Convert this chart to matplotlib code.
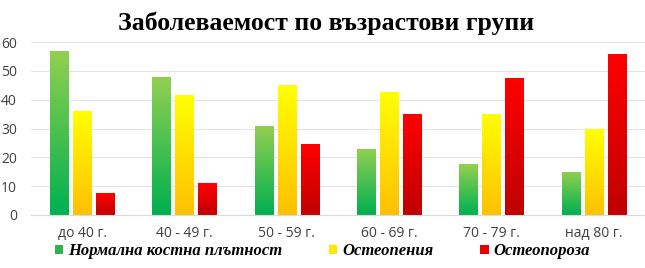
import matplotlib.pyplot as plt
import numpy as np
from matplotlib.patches import Patch

groups = ["до 40 г.", "40 - 49 г.", "50 - 59 г.", "60 - 69 г.", "70 - 79 г.", "над 80 г."]
normal = [57, 48, 31, 23, 17.7, 15]
osteopenia = [36, 41.5, 45, 42.5, 35, 29.7]
osteoporosis = [7.5, 11, 24.5, 35, 47.5, 55.8]
names = ["Нормална костна плътност", "Остеопения", "Остеопороза"]
# top / bottom colours of the gradients
grads = [("#92d050", "#00b050"), ("#ffff00", "#ffc000"), ("#ff0000", "#c00000")]
legend_colors = ["#2db24f", "#ffe800", "#e80000"]

fig = plt.figure(figsize=(6.45, 2.68), dpi=100)
ax = fig.add_axes([0.048, 0.198, 0.952, 0.645])

x = np.arange(len(groups))
w = 0.18
step = 0.225

def hex2rgb(h):
    return np.array([int(h[i:i + 2], 16) / 255 for i in (1, 3, 5)])

for i, (vals, (top, bot)) in enumerate(zip([normal, osteopenia, osteoporosis], grads)):
    bars = ax.bar(x + (i - 1) * step, vals, w, color="none", edgecolor="none", zorder=2)
    t, b = hex2rgb(top), hex2rgb(bot)
    for bar in bars:
        x0, y0 = bar.get_x(), bar.get_y()
        h = bar.get_height()
        f = np.linspace(0, 1, 100)[:, None]
        img = (t * (1 - f) + b * f)[:, None, :]
        im = ax.imshow(img, extent=[x0, x0 + w, y0, y0 + h], aspect="auto", zorder=2)
        im.set_clip_path(bar)

ax.set_xlim(-0.5, 5.5)
ax.set_ylim(0, 60)
ax.set_yticks(range(0, 61, 10))
ax.set_xticks(x)
ax.set_xticklabels(groups)
ax.grid(axis="y", color="#e4e4e4", linewidth=0.8, zorder=0)
ax.set_axisbelow(True)
for s in ["top", "right", "left"]:
    ax.spines[s].set_visible(False)
ax.spines["bottom"].set_color("#d9d9d9")
ax.tick_params(length=0, labelsize=10, colors="#404040", pad=8)
for lab in ax.get_xticklabels() + ax.get_yticklabels():
    lab.set_fontfamily("Open Sans")
ax.tick_params(axis="y", pad=10)

fig.text(0.505, 0.915, "Заболеваемост по възрастови групи", ha="center", va="center",
         fontsize=18.5, fontweight="bold", family="Liberation Serif")

handles = [Patch(facecolor=c) for c in legend_colors]
fig.legend(handles, names, loc="center", bbox_to_anchor=(0.5, 0.062), ncol=3,
           frameon=False, handlelength=0.5, handleheight=0.5, handletextpad=0.3,
           columnspacing=2.8, borderpad=0,
           prop={"family": "Liberation Serif", "style": "italic", "weight": "bold", "size": 12})

fig.savefig("out.png", dpi=100)
